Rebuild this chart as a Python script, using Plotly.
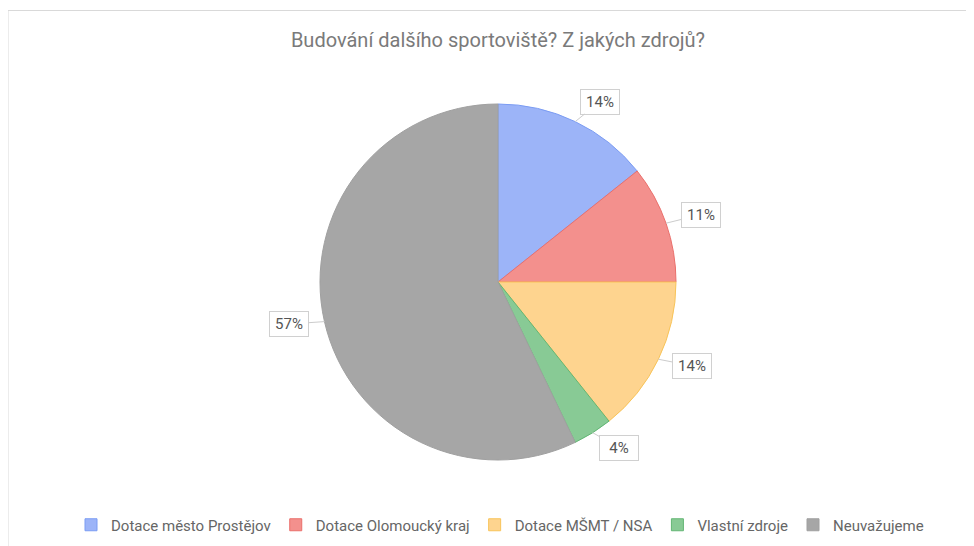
from __future__ import annotations

import numpy as np
import plotly.graph_objects as go

# --- data -----------------------------------------------------------------
labels = [
    "Dotace město Prostějov",
    "Dotace Olomoucký kraj",
    "Dotace MŠMT / NSA",
    "Vlastní zdroje",
    "Neuvažujeme",
]
counts = [4, 3, 4, 1, 16]
colors = ["#9cb4f8", "#f3908d", "#fed48f", "#88ca95", "#a6a6a6"]
edge_colors = ["#7b9cf3", "#ea6f6b", "#f8c45a", "#63b675", "#a0a0a0"]
title_text = "Budování dalšího sportoviště? Z jakých zdrojů?"

# the page body has an 8px margin, so the figure starts at (8, 8)
OFF = 8
W, H = 974 - OFF, 546 - OFF
CX, CY, R = 498 - OFF, 282 - OFF, 178  # pie centre / radius in figure pixels


def px_to_paper(x: float, y: float) -> tuple[float, float]:
    return x / W, 1 - y / H


fig = go.Figure()
fig.add_trace(
    go.Pie(
        labels=labels,
        values=counts,
        sort=False,
        direction="clockwise",
        rotation=0,
        textinfo="none",
        hoverinfo="label+percent",
        marker={"colors": colors, "line": {"color": edge_colors, "width": 1}},
        domain={
            "x": [(CX - R) / W, (CX + R) / W],
            "y": [1 - (CY + R) / H, 1 - (CY - R) / H],
        },
    )
)

# callout labels, placed from slice mid-angles
vals = np.asarray(counts, dtype=float)
total = vals.sum()
cum = np.cumsum(vals) - vals / 2
annotations = []
for v, c in zip(vals, cum):
    ang = np.deg2rad(c / total * 360)
    sx, sy = np.sin(ang), -np.cos(ang)
    ex, ey = CX + R * sx, CY + R * sy
    side = 1 if sx >= 0 else -1
    x, y = px_to_paper(ex, ey)
    annotations.append(
        dict(
            x=x,
            y=y,
            xref="paper",
            yref="paper",
            text=f"{round(v / total * 100)}%",
            showarrow=True,
            arrowhead=0,
            arrowwidth=1,
            arrowcolor="#cccccc",
            ax=20 * sx + 16 * side,
            ay=20 * sy - 2,
            width=32,
            bgcolor="white",
            bordercolor="#d0d0d0",
            borderwidth=1,
            borderpad=3,
            font={"family": "Roboto", "size": 15, "color": "#555555"},
        )
    )

fig.update_layout(
    width=W,
    height=H,
    paper_bgcolor="white",
    plot_bgcolor="white",
    margin=dict(l=0, r=0, t=0, b=0),
    title=dict(
        text=title_text,
        x=(498 - OFF) / W,
        xanchor="center",
        y=1 - (40 - OFF) / H,
        yanchor="middle",
        font={"family": "Roboto", "size": 20, "color": "#7a7a7a"},
    ),
    showlegend=True,
    legend=dict(
        orientation="h",
        x=(500 - OFF) / W,
        xanchor="center",
        y=1 - (525 - OFF) / H,
        yanchor="middle",
        font={"family": "Roboto", "size": 15, "color": "#666666"},
        itemwidth=30,
        traceorder="normal",
    ),
    annotations=annotations,
    shapes=[
        dict(
            type="rect",
            xref="paper",
            yref="paper",
            x0=0,
            x1=1.02,
            y0=-0.02,
            y1=1 - 2.5 / H,
            line={"color": "#d9d9d9", "width": 1},
        )
    ],
)

fig.write_html("out.html")
